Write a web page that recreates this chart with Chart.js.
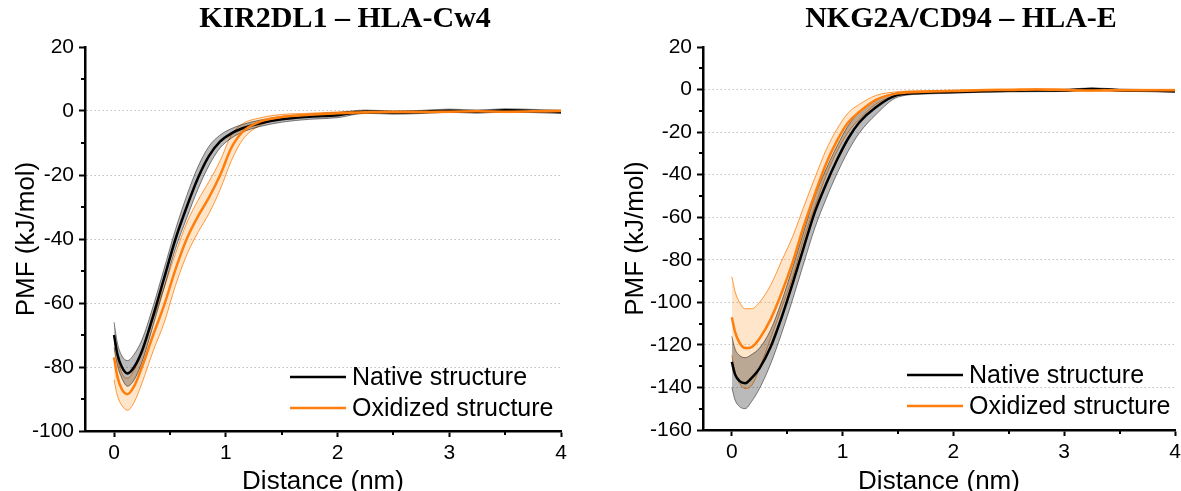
<!DOCTYPE html>
<html>
<head>
<meta charset="utf-8">
<script src="https://cdn.jsdelivr.net/npm/chart.js@4.4.1/dist/chart.umd.min.js"></script>
<style>
  html, body { margin: 0; padding: 0; background: #fff; }
  #wrap { position: relative; width: 1181px; height: 491px; overflow: hidden; }
  canvas { position: absolute; top: 0; }
  #left { left: 0; }
  #right { left: 590px; }
</style>
</head>
<body>
<div id="wrap">
  <canvas id="left" width="590" height="491"></canvas>
  <canvas id="right" width="591" height="491"></canvas>
</div>
<script>
/* ---------- DATA ---------- */
const distance = [0, 0.03, 0.07, 0.12, 0.18, 0.25, 0.35, 0.45, 0.55, 0.65, 0.75, 0.85, 0.95, 1.05,
  1.15, 1.3, 1.5, 1.75, 2.0, 2.25, 2.5, 2.75, 3.0, 3.25, 3.5, 3.75, 4.0];

const xTickValues = [0, 1, 2, 3, 4];
const xMinorValues = [0.5, 1.5, 2.5, 3.5];

// KIR2DL1 – HLA-Cw4
const kirNative = [-70, -76, -80, -82, -80, -75, -64, -52, -40, -30, -21, -14, -9.5, -7,
  -5.4, -3.9, -2.6, -1.8, -1.3, -0.2, -0.5, -0.3, 0.1, -0.2, 0.2, 0, -0.3];
const kirNativeSd = [4, 3.5, 3.5, 4, 4, 3.5, 3, 3, 3, 3.5, 3.5, 3, 2, 1.5,
  1.2, 1, 0.9, 0.8, 0.8, 0.5, 0.5, 0.5, 0.5, 0.5, 0.5, 0.5, 0.5];
const kirOxidized = [-77, -83, -87, -88.5, -86, -80, -70, -60.5, -49.5, -40, -33, -27, -20, -11.5,
  -6.5, -3.4, -1.9, -1.2, -0.7, -0.4, -0.3, -0.3, -0.2, -0.1, -0.2, -0.1, 0];
const kirOxidizedSd = [7, 6, 5, 5, 5, 5, 5, 5.5, 5, 5, 5, 5, 4.5, 4,
  2.5, 1.2, 0.8, 0.5, 0.4, 0.4, 0.3, 0.3, 0.3, 0.3, 0.3, 0.3, 0.3];
const kirYTicks = [20, 0, -20, -40, -60, -80, -100];
const kirYMinor = [10, -10, -30, -50, -70, -90];

// NKG2A/CD94 – HLA-E
const nkgNative = [-128, -134, -137, -138, -135.5, -131, -121, -107, -91, -74, -57.5, -44.5, -33, -23,
  -15.5, -8.3, -2.5, -1.5, -1.2, -0.8, -0.6, -0.5, -0.4, 0.3, -0.3, -0.5, -0.8];
const nkgNativeSd = [12, 12, 12, 12, 11, 9.5, 8, 7.5, 7.5, 7.5, 7.5, 7, 6.5, 6,
  5, 3.5, 1, 0.6, 0.5, 0.5, 0.5, 0.5, 0.5, 0.5, 0.5, 0.5, 0.5];
const nkgOxidized = [-107, -114, -119, -121.5, -121, -117, -108, -95.5, -81, -64, -49, -35, -24, -15.5,
  -10.5, -4.8, -1.8, -1, -0.7, -0.3, -0.2, 0, -0.2, -0.4, -0.3, -0.3, -0.3];
const nkgOxidizedUp = [19, 19, 19, 18.5, 18, 17, 16, 15, 12, 9, 7.5, 6.5, 5.5, 4.5,
  3.5, 2, 0.8, 0.5, 0.4, 0.4, 0.4, 0.4, 0.4, 0.4, 0.4, 0.4, 0.4];
const nkgOxidizedLo = [18, 19, 19, 19, 18, 14, 9, 7, 7, 6, 6, 5.5, 5, 4.5,
  3.5, 2, 0.8, 0.5, 0.4, 0.4, 0.4, 0.4, 0.4, 0.4, 0.4, 0.4, 0.4];
const nkgYTicks = [20, 0, -20, -40, -60, -80, -100, -120, -140, -160];
const nkgYMinor = [10, -10, -30, -50, -70, -90, -110, -130, -150];

/* ---------- STYLE ---------- */
const ORANGE = "#ff7f0e";
const SANS = "'Liberation Sans', Arial, sans-serif";
const SERIF = "'Liberation Serif', 'Times New Roman', serif";

function pts(ys) {
  return distance.map((x, i) => ({ x: x, y: ys[i] }));
}

function shift(ys, d, sign) {
  return ys.map((v, i) => v + sign * d[i]);
}

function makeDatasets(nat, natUp, natLo, ox, oxUp, oxLo) {
  const base = { pointRadius: 0, cubicInterpolationMode: "monotone", fill: false };
  return [
    { ...base, label: "Oxidized structure", data: pts(ox), borderColor: ORANGE, borderWidth: 2.5 },
    { ...base, label: "Native structure", data: pts(nat), borderColor: "#000", borderWidth: 2.5 },
    { ...base, data: pts(shift(nat, natUp, 1)), borderColor: "rgba(0,0,0,0.6)", borderWidth: 0.8,
      fill: "+1", backgroundColor: "rgba(0,0,0,0.27)" },
    { ...base, data: pts(shift(nat, natLo, -1)), borderColor: "rgba(0,0,0,0.6)", borderWidth: 0.8 },
    { ...base, data: pts(shift(ox, oxUp, 1)), borderColor: ORANGE, borderWidth: 0.8,
      fill: "+1", backgroundColor: "rgba(255,140,20,0.22)" },
    { ...base, data: pts(shift(ox, oxLo, -1)), borderColor: ORANGE, borderWidth: 0.8 }
  ];
}

/* ---------- DECORATION PLUGIN (title, legend, minor ticks) ---------- */
const panelDecor = {
  id: "panelDecor",
  afterDraw(chart, args, opts) {
    const ctx = chart.ctx;
    const xs = chart.scales.x;
    const ys = chart.scales.y;
    const area = chart.chartArea;

    // minor ticks
    ctx.save();
    ctx.strokeStyle = "#000";
    ctx.lineWidth = 2;
    xMinorValues.forEach(v => {
      const px = Math.round(xs.getPixelForValue(v));
      ctx.beginPath();
      ctx.moveTo(px, area.bottom);
      ctx.lineTo(px, area.bottom + 4);
      ctx.stroke();
    });
    opts.yMinor.forEach(v => {
      const py = Math.round(ys.getPixelForValue(v));
      ctx.beginPath();
      ctx.moveTo(area.left - 4, py);
      ctx.lineTo(area.left, py);
      ctx.stroke();
    });

    // title
    ctx.fillStyle = "#000";
    ctx.font = "bold 30px " + SERIF;
    ctx.textAlign = "center";
    ctx.textBaseline = "middle";
    ctx.fillText(opts.title, opts.titleX, opts.titleY);

    // legend
    ctx.font = "25px " + SANS;
    ctx.textAlign = "left";
    const items = [
      { text: "Native structure", color: "#000" },
      { text: "Oxidized structure", color: ORANGE }
    ];
    items.forEach((it, i) => {
      const y = opts.legendY + i * opts.legendGap;
      ctx.strokeStyle = it.color;
      ctx.lineWidth = 2.5;
      ctx.beginPath();
      ctx.moveTo(opts.legendX, y);
      ctx.lineTo(opts.legendX + 56, y);
      ctx.stroke();
      ctx.fillStyle = "#000";
      ctx.fillText(it.text, opts.legendX + 62, y + 1);
    });
    ctx.restore();
  }
};

function makeChart(canvasId, cfg) {
  const yMin = Math.min(...cfg.yTicks);
  const yMax = Math.max(...cfg.yTicks);
  return new Chart(document.getElementById(canvasId), {
    type: "line",
    data: { datasets: cfg.datasets },
    plugins: [panelDecor],
    options: {
      responsive: false,
      animation: false,
      devicePixelRatio: 1,
      layout: { padding: { left: 0, right: cfg.padRight, top: 47, bottom: 0 } },
      plugins: {
        legend: { display: false },
        tooltip: { enabled: false },
        panelDecor: {
          title: cfg.title, titleX: cfg.titleX, titleY: 19,
          legendX: cfg.legendX, legendY: cfg.legendY, legendGap: 31,
          yMinor: cfg.yMinor
        }
      },
      scales: {
        x: {
          type: "linear",
          min: -0.26,
          max: 4,
          afterBuildTicks: s => { s.ticks = xTickValues.map(v => ({ value: v })); },
          afterFit: s => { s.height = cfg.xHeight; s.paddingLeft = 0; s.paddingRight = 0; },
          border: { color: "#000", width: 2.5 },
          grid: { drawOnChartArea: false, drawTicks: true, tickLength: 6, tickColor: "#000", tickWidth: 2 },
          ticks: { color: "#000", font: { family: SANS, size: 21 }, padding: 4, maxRotation: 0, autoSkip: false },
          title: { display: true, text: "Distance (nm)", color: "#000",
            font: { family: SANS, size: 26, lineHeight: 0.7 }, padding: { top: 0, bottom: 0 } }
        },
        y: {
          type: "linear",
          min: yMin,
          max: yMax,
          afterBuildTicks: s => { s.ticks = cfg.yTicks.slice().reverse().map(v => ({ value: v })); },
          afterFit: s => { s.width = cfg.yWidth; s.paddingTop = 0; s.paddingBottom = 0; },
          border: { color: "#000", width: 2.5, dash: [1.5, 2.5] },
          grid: {
            color: c => (c.tick && (c.tick.value === yMin || c.tick.value === yMax)) ? "rgba(0,0,0,0)" : "#c2c2c2",
            lineWidth: 1,
            tickLength: 6, tickColor: "#000", tickWidth: 2
          },
          ticks: { color: "#000", font: { family: SANS, size: 21 }, padding: 5, autoSkip: false },
          title: { display: true, text: "PMF (kJ/mol)", color: "#000",
            font: { family: SANS, size: 26, lineHeight: 1.2 }, padding: { top: cfg.yTitlePad, bottom: 0 } }
        }
      }
    }
  });
}

/* ---------- INIT ---------- */
makeChart("left", {
  title: "KIR2DL1 – HLA-Cw4",
  titleX: 345,
  legendX: 290,
  legendY: 377,
  yTicks: kirYTicks,
  yMinor: kirYMinor,
  yWidth: 85,
  yTitlePad: 11,
  xHeight: 60,
  padRight: 29,
  datasets: makeDatasets(kirNative, kirNativeSd, kirNativeSd, kirOxidized, kirOxidizedSd, kirOxidizedSd)
});

makeChart("right", {
  title: "NKG2A/CD94 – HLA-E",
  titleX: 371,
  legendX: 317,
  legendY: 375,
  yTicks: nkgYTicks,
  yMinor: nkgYMinor,
  yWidth: 113,
  yTitlePad: 30,
  xHeight: 61,
  padRight: 6,
  datasets: makeDatasets(nkgNative, nkgNativeSd, nkgNativeSd, nkgOxidized, nkgOxidizedUp, nkgOxidizedLo)
});
</script>
</body>
</html>
